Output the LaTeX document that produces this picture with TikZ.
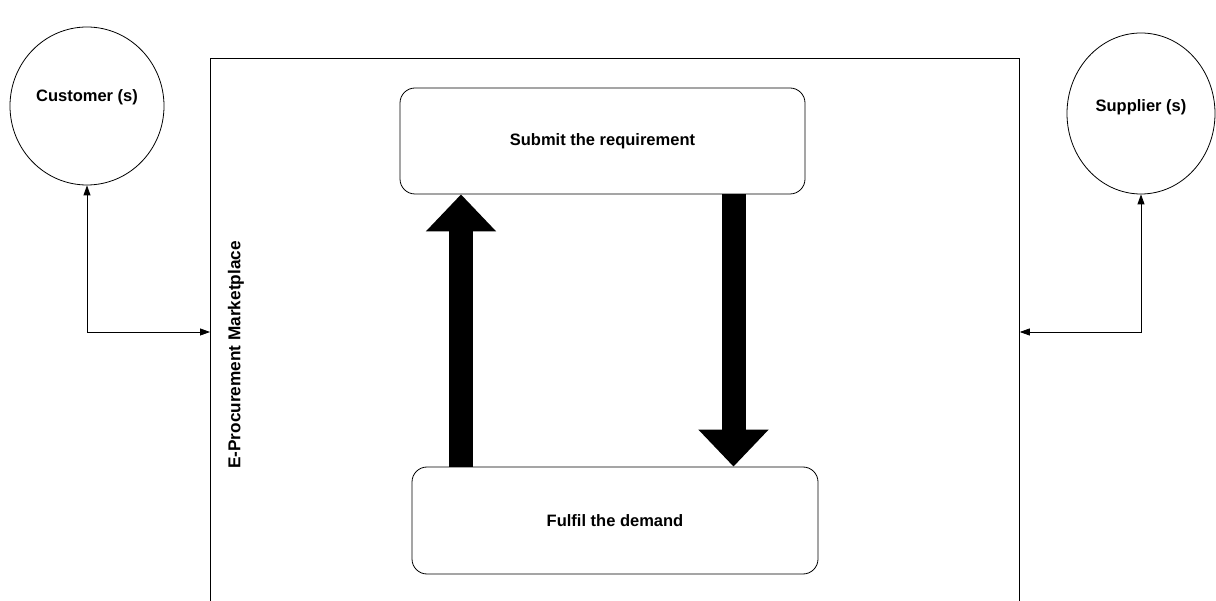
\documentclass[tikz,border=0pt]{standalone}
\usepackage{fontspec}
\setmainfont{Liberation Sans}
\usetikzlibrary{shapes.geometric,arrows.meta}
\begin{document}
\begin{tikzpicture}[x=1pt,y=-1pt,
  every node/.style={font=\fontsize{16.5}{19}\selectfont\bfseries},
  thin line/.style={line width=0.8pt},
  actor/.style={ellipse,draw,thin line,inner sep=0pt},
  stepbox/.style={draw,thin line,rounded corners=15pt,inner sep=0pt},
  link/.style={thin line,{Triangle[length=10pt,width=7pt]}-{Triangle[length=10pt,width=7pt]}},
  bigarrow/.style={line width=24pt,-{Triangle[length=37pt,width=68pt]}}
]
\useasboundingbox (0,0) rectangle (1216,601);
\clip (0,0) rectangle (1216,601);
\fill[white] (0,0) rectangle (1216,601);

% container
\node[draw,thin line,anchor=north west,minimum width=809pt,minimum height=620pt,inner sep=0pt] (market) at (210,58) {};
\node[rotate=90,font=\fontsize{17.2}{19}\selectfont\bfseries] (mlabel) at (236,355) {E-Procurement Marketplace};

% actors
\node[actor,minimum width=154pt,minimum height=158pt,label={[yshift=9pt]center:Customer (s)}] (cust) at (87,106) {};
\node[actor,minimum width=148pt,minimum height=161pt,label={[yshift=6pt]center:Supplier (s)}] (supp) at (1141,113.5) {};

% process boxes
\node[stepbox,minimum width=405pt,minimum height=106pt] (submit) at (602.5,141) {Submit the requirement};
\node[stepbox,minimum width=406pt,minimum height=107pt] (fulfil) at (615,520.5) {Fulfil the demand};

% connectors
\coordinate (cj) at (87,332);
\coordinate (sj) at (1141,332);
\draw[link] (cust.south) -- (cj) -- (cj -| market.west);
\draw[link] (supp.south) -- (sj) -- (sj -| market.east);

% big arrows
\coordinate (ux) at (461,0);
\coordinate (dx) at (733.5,0);
\draw[bigarrow] (ux |- fulfil.north) -- (ux |- submit.south);
\draw[bigarrow] (dx |- submit.south) -- (dx |- fulfil.north);
\end{tikzpicture}
\end{document}
